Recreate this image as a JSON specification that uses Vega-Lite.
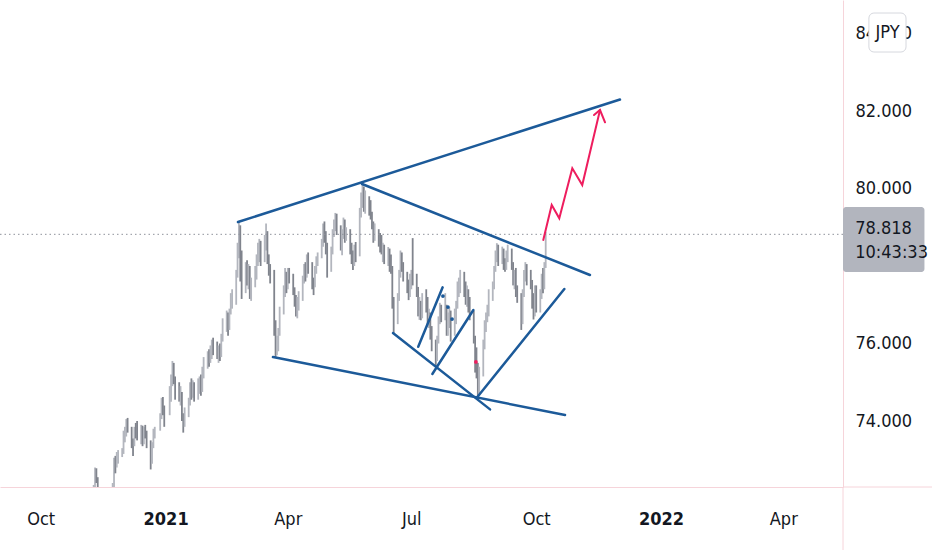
{
  "$schema": "https://vega.github.io/schema/vega-lite/v6.json",
  "width": 843,
  "height": 487,
  "autosize": {"type": "none"},
  "padding": {"left": 0, "top": 0, "right": 89, "bottom": 63},
  "background": "#ffffff",
  "config": {
    "view": {"stroke": null},
    "font": "'Liberation Sans Narrow', 'DejaVu Sans Condensed', Roboto, sans-serif"
  },
  "datasets": {
    "bars": [
      {"d":"2020-11-09","o":70.9,"h":72.35,"l":70.8,"c":72.2},
      {"d":"2020-11-10","o":72.2,"h":72.8,"l":72.1,"c":72.55},
      {"d":"2020-11-11","o":72.55,"h":72.78,"l":72.4,"c":72.5},
      {"d":"2020-11-12","o":72.5,"h":72.55,"l":72.0,"c":72.1},
      {"d":"2020-11-13","o":72.1,"h":72.2,"l":71.8,"c":71.95},
      {"d":"2020-11-16","o":71.95,"h":72.25,"l":71.8,"c":72.1},
      {"d":"2020-11-17","o":72.1,"h":72.2,"l":71.75,"c":71.9},
      {"d":"2020-11-18","o":71.9,"h":72.1,"l":71.7,"c":71.85},
      {"d":"2020-11-19","o":71.85,"h":72.0,"l":71.5,"c":71.7},
      {"d":"2020-11-20","o":71.7,"h":72.05,"l":71.6,"c":71.95},
      {"d":"2020-11-23","o":71.95,"h":72.4,"l":71.85,"c":72.3},
      {"d":"2020-11-24","o":72.3,"h":73.05,"l":72.25,"c":72.9},
      {"d":"2020-11-25","o":72.9,"h":73.1,"l":72.65,"c":72.85},
      {"d":"2020-11-26","o":72.85,"h":73.2,"l":72.8,"c":73.05},
      {"d":"2020-11-27","o":73.05,"h":73.25,"l":72.9,"c":73.15},
      {"d":"2020-11-30","o":73.15,"h":73.3,"l":73.07,"c":73.2},
      {"d":"2020-12-01","o":73.2,"h":73.75,"l":73.15,"c":73.65},
      {"d":"2020-12-02","o":73.65,"h":73.85,"l":73.45,"c":73.7},
      {"d":"2020-12-03","o":73.7,"h":74.05,"l":73.6,"c":73.95},
      {"d":"2020-12-04","o":73.95,"h":74.08,"l":73.7,"c":73.8},
      {"d":"2020-12-07","o":73.8,"h":73.85,"l":73.3,"c":73.45},
      {"d":"2020-12-08","o":73.45,"h":73.55,"l":73.1,"c":73.4},
      {"d":"2020-12-09","o":73.4,"h":73.85,"l":73.35,"c":73.75},
      {"d":"2020-12-10","o":73.75,"h":73.95,"l":73.55,"c":73.7},
      {"d":"2020-12-11","o":73.7,"h":74.0,"l":73.5,"c":73.6},
      {"d":"2020-12-14","o":73.6,"h":73.9,"l":73.4,"c":73.8},
      {"d":"2020-12-15","o":73.8,"h":73.88,"l":73.35,"c":73.45},
      {"d":"2020-12-16","o":73.45,"h":73.85,"l":73.4,"c":73.7},
      {"d":"2020-12-17","o":73.7,"h":73.9,"l":73.55,"c":73.65},
      {"d":"2020-12-18","o":73.65,"h":73.75,"l":73.3,"c":73.4},
      {"d":"2020-12-21","o":73.4,"h":73.5,"l":72.75,"c":73.1},
      {"d":"2020-12-22","o":73.1,"h":73.45,"l":72.9,"c":73.35},
      {"d":"2020-12-23","o":73.35,"h":73.8,"l":73.3,"c":73.7},
      {"d":"2020-12-24","o":73.7,"h":73.85,"l":73.55,"c":73.75},
      {"d":"2020-12-28","o":73.75,"h":74.2,"l":73.75,"c":74.1},
      {"d":"2020-12-29","o":74.1,"h":74.6,"l":74.05,"c":74.45},
      {"d":"2020-12-30","o":74.45,"h":74.62,"l":74.15,"c":74.3},
      {"d":"2020-12-31","o":74.3,"h":74.4,"l":73.85,"c":74.2},
      {"d":"2021-01-04","o":74.2,"h":74.9,"l":74.15,"c":74.6},
      {"d":"2021-01-05","o":74.6,"h":75.2,"l":74.5,"c":75.1},
      {"d":"2021-01-06","o":75.1,"h":75.55,"l":74.9,"c":75.3},
      {"d":"2021-01-07","o":75.3,"h":75.5,"l":74.95,"c":75.05},
      {"d":"2021-01-08","o":75.05,"h":75.15,"l":74.55,"c":74.8},
      {"d":"2021-01-11","o":74.8,"h":75.0,"l":74.5,"c":74.6},
      {"d":"2021-01-12","o":74.6,"h":74.9,"l":74.4,"c":74.7},
      {"d":"2021-01-13","o":74.7,"h":74.75,"l":74.0,"c":74.1},
      {"d":"2021-01-14","o":74.1,"h":74.2,"l":73.7,"c":73.95},
      {"d":"2021-01-15","o":73.95,"h":74.35,"l":73.85,"c":74.25},
      {"d":"2021-01-18","o":74.25,"h":74.6,"l":74.1,"c":74.5},
      {"d":"2021-01-19","o":74.5,"h":75.0,"l":74.4,"c":74.85},
      {"d":"2021-01-20","o":74.85,"h":75.1,"l":74.55,"c":74.7},
      {"d":"2021-01-21","o":74.7,"h":75.05,"l":74.6,"c":74.95},
      {"d":"2021-01-22","o":74.95,"h":75.0,"l":74.5,"c":74.6},
      {"d":"2021-01-25","o":74.6,"h":75.1,"l":74.55,"c":74.9},
      {"d":"2021-01-26","o":74.9,"h":75.15,"l":74.7,"c":75.05},
      {"d":"2021-01-27","o":75.05,"h":75.2,"l":74.65,"c":74.8},
      {"d":"2021-01-28","o":74.8,"h":75.4,"l":74.75,"c":75.3},
      {"d":"2021-01-29","o":75.3,"h":75.65,"l":75.1,"c":75.45},
      {"d":"2021-02-01","o":75.45,"h":75.8,"l":75.35,"c":75.65},
      {"d":"2021-02-02","o":75.65,"h":75.85,"l":75.4,"c":75.55},
      {"d":"2021-02-03","o":75.55,"h":75.95,"l":75.5,"c":75.85},
      {"d":"2021-02-04","o":75.85,"h":76.1,"l":75.6,"c":76.0},
      {"d":"2021-02-05","o":76.0,"h":76.15,"l":75.7,"c":75.85},
      {"d":"2021-02-08","o":75.85,"h":76.05,"l":75.6,"c":75.75},
      {"d":"2021-02-09","o":75.75,"h":75.95,"l":75.5,"c":75.9},
      {"d":"2021-02-10","o":75.9,"h":76.0,"l":75.55,"c":75.7},
      {"d":"2021-02-11","o":75.7,"h":76.25,"l":75.65,"c":76.15},
      {"d":"2021-02-12","o":76.15,"h":76.65,"l":76.05,"c":76.5},
      {"d":"2021-02-15","o":76.5,"h":76.85,"l":76.3,"c":76.7},
      {"d":"2021-02-16","o":76.7,"h":76.8,"l":76.2,"c":76.45},
      {"d":"2021-02-17","o":76.45,"h":76.9,"l":76.35,"c":76.8},
      {"d":"2021-02-18","o":76.8,"h":77.3,"l":76.75,"c":77.1},
      {"d":"2021-02-19","o":77.1,"h":77.4,"l":76.9,"c":77.25},
      {"d":"2021-02-22","o":77.25,"h":77.9,"l":77.0,"c":77.8},
      {"d":"2021-02-23","o":77.8,"h":78.6,"l":77.7,"c":78.4},
      {"d":"2021-02-24","o":78.4,"h":79.14,"l":78.2,"c":78.9},
      {"d":"2021-02-25","o":78.9,"h":79.05,"l":77.6,"c":77.9},
      {"d":"2021-02-26","o":77.9,"h":78.4,"l":77.15,"c":77.4},
      {"d":"2021-03-01","o":77.4,"h":78.1,"l":77.3,"c":77.95},
      {"d":"2021-03-02","o":77.95,"h":78.15,"l":77.5,"c":77.7},
      {"d":"2021-03-03","o":77.7,"h":78.05,"l":77.4,"c":77.9},
      {"d":"2021-03-04","o":77.9,"h":78.0,"l":77.15,"c":77.35},
      {"d":"2021-03-05","o":77.35,"h":77.7,"l":77.1,"c":77.55},
      {"d":"2021-03-08","o":77.55,"h":78.0,"l":77.45,"c":77.85},
      {"d":"2021-03-09","o":77.85,"h":78.3,"l":77.65,"c":78.2},
      {"d":"2021-03-10","o":78.2,"h":78.6,"l":78.0,"c":78.45},
      {"d":"2021-03-11","o":78.45,"h":78.7,"l":78.1,"c":78.55},
      {"d":"2021-03-12","o":78.55,"h":78.65,"l":78.0,"c":78.2},
      {"d":"2021-03-15","o":78.2,"h":78.8,"l":78.1,"c":78.6},
      {"d":"2021-03-16","o":78.6,"h":79.1,"l":78.4,"c":78.7},
      {"d":"2021-03-17","o":78.7,"h":78.9,"l":78.05,"c":78.2},
      {"d":"2021-03-18","o":78.2,"h":78.3,"l":77.75,"c":77.95},
      {"d":"2021-03-19","o":77.95,"h":78.05,"l":77.55,"c":77.8},
      {"d":"2021-03-22","o":77.8,"h":77.9,"l":76.2,"c":76.4},
      {"d":"2021-03-23","o":76.4,"h":76.6,"l":75.65,"c":75.95},
      {"d":"2021-03-24","o":75.95,"h":76.2,"l":75.7,"c":76.0},
      {"d":"2021-03-25","o":76.0,"h":76.4,"l":75.8,"c":76.3},
      {"d":"2021-03-26","o":76.3,"h":76.95,"l":76.2,"c":76.85},
      {"d":"2021-03-29","o":76.85,"h":77.5,"l":76.75,"c":77.3},
      {"d":"2021-03-30","o":77.3,"h":77.95,"l":77.2,"c":77.7},
      {"d":"2021-03-31","o":77.7,"h":77.85,"l":77.3,"c":77.45},
      {"d":"2021-04-01","o":77.45,"h":77.95,"l":77.4,"c":77.8},
      {"d":"2021-04-02","o":77.8,"h":77.95,"l":77.55,"c":77.7},
      {"d":"2021-04-05","o":77.7,"h":77.8,"l":77.25,"c":77.35},
      {"d":"2021-04-06","o":77.35,"h":77.45,"l":76.95,"c":77.1},
      {"d":"2021-04-07","o":77.1,"h":77.25,"l":76.7,"c":76.9},
      {"d":"2021-04-08","o":76.9,"h":77.2,"l":76.65,"c":77.05},
      {"d":"2021-04-09","o":77.05,"h":77.35,"l":76.85,"c":77.2},
      {"d":"2021-04-12","o":77.2,"h":77.75,"l":77.1,"c":77.65},
      {"d":"2021-04-13","o":77.65,"h":78.05,"l":77.55,"c":77.9},
      {"d":"2021-04-14","o":77.9,"h":78.1,"l":77.6,"c":77.75},
      {"d":"2021-04-15","o":77.75,"h":78.3,"l":77.7,"c":78.2},
      {"d":"2021-04-16","o":78.2,"h":78.35,"l":77.8,"c":77.95},
      {"d":"2021-04-19","o":77.95,"h":78.1,"l":77.4,"c":77.55},
      {"d":"2021-04-20","o":77.55,"h":77.7,"l":77.25,"c":77.5},
      {"d":"2021-04-21","o":77.5,"h":78.0,"l":77.45,"c":77.9},
      {"d":"2021-04-22","o":77.9,"h":78.25,"l":77.8,"c":78.1},
      {"d":"2021-04-23","o":78.1,"h":78.35,"l":78.0,"c":78.25},
      {"d":"2021-04-26","o":78.25,"h":78.7,"l":78.2,"c":78.6},
      {"d":"2021-04-27","o":78.6,"h":79.1,"l":78.5,"c":78.95},
      {"d":"2021-04-28","o":78.95,"h":79.15,"l":78.6,"c":78.75},
      {"d":"2021-04-29","o":78.75,"h":78.9,"l":78.3,"c":78.45},
      {"d":"2021-04-30","o":78.45,"h":78.6,"l":77.7,"c":77.95},
      {"d":"2021-05-03","o":77.95,"h":78.5,"l":77.85,"c":78.4},
      {"d":"2021-05-04","o":78.4,"h":78.95,"l":78.3,"c":78.85},
      {"d":"2021-05-05","o":78.85,"h":79.2,"l":78.75,"c":79.05},
      {"d":"2021-05-06","o":79.05,"h":79.37,"l":78.9,"c":79.2},
      {"d":"2021-05-07","o":79.2,"h":79.35,"l":78.8,"c":79.0},
      {"d":"2021-05-10","o":79.0,"h":79.05,"l":78.4,"c":78.6},
      {"d":"2021-05-11","o":78.6,"h":78.95,"l":78.28,"c":78.8},
      {"d":"2021-05-12","o":78.8,"h":79.25,"l":78.7,"c":79.1},
      {"d":"2021-05-13","o":79.1,"h":79.2,"l":78.6,"c":78.75},
      {"d":"2021-05-14","o":78.75,"h":79.0,"l":78.65,"c":78.9},
      {"d":"2021-05-17","o":78.9,"h":78.95,"l":78.3,"c":78.45},
      {"d":"2021-05-18","o":78.45,"h":78.6,"l":78.05,"c":78.2},
      {"d":"2021-05-19","o":78.2,"h":78.4,"l":77.9,"c":78.1},
      {"d":"2021-05-20","o":78.1,"h":78.55,"l":78.0,"c":78.45},
      {"d":"2021-05-21","o":78.45,"h":78.62,"l":78.1,"c":78.3},
      {"d":"2021-05-24","o":78.3,"h":79.5,"l":78.25,"c":79.35},
      {"d":"2021-05-25","o":79.35,"h":79.9,"l":79.25,"c":79.7},
      {"d":"2021-05-26","o":79.7,"h":80.12,"l":79.5,"c":79.85},
      {"d":"2021-05-27","o":79.85,"h":80.05,"l":79.4,"c":79.6},
      {"d":"2021-05-28","o":79.6,"h":79.95,"l":79.35,"c":79.75},
      {"d":"2021-05-31","o":79.75,"h":79.8,"l":79.3,"c":79.45},
      {"d":"2021-06-01","o":79.45,"h":79.7,"l":79.2,"c":79.3},
      {"d":"2021-06-02","o":79.3,"h":79.4,"l":78.95,"c":79.05},
      {"d":"2021-06-03","o":79.05,"h":79.15,"l":78.6,"c":78.75},
      {"d":"2021-06-04","o":78.75,"h":79.1,"l":78.65,"c":78.95},
      {"d":"2021-06-07","o":78.95,"h":78.95,"l":78.5,"c":78.7},
      {"d":"2021-06-08","o":78.7,"h":78.85,"l":78.35,"c":78.55},
      {"d":"2021-06-09","o":78.55,"h":78.8,"l":78.3,"c":78.4},
      {"d":"2021-06-10","o":78.4,"h":78.6,"l":78.1,"c":78.5},
      {"d":"2021-06-11","o":78.5,"h":78.55,"l":78.05,"c":78.2},
      {"d":"2021-06-14","o":78.2,"h":78.49,"l":78.0,"c":78.35},
      {"d":"2021-06-15","o":78.35,"h":78.45,"l":77.85,"c":78.05},
      {"d":"2021-06-16","o":78.05,"h":78.3,"l":77.8,"c":77.95},
      {"d":"2021-06-17","o":77.95,"h":78.0,"l":76.9,"c":77.1},
      {"d":"2021-06-18","o":77.1,"h":77.2,"l":76.27,"c":76.55},
      {"d":"2021-06-21","o":76.55,"h":77.3,"l":76.5,"c":77.2},
      {"d":"2021-06-22","o":77.2,"h":77.9,"l":77.1,"c":77.8},
      {"d":"2021-06-23","o":77.8,"h":78.4,"l":77.7,"c":78.2},
      {"d":"2021-06-24","o":78.2,"h":78.35,"l":77.85,"c":78.0},
      {"d":"2021-06-25","o":78.0,"h":78.1,"l":77.6,"c":77.75},
      {"d":"2021-06-28","o":77.75,"h":77.85,"l":77.3,"c":77.45},
      {"d":"2021-06-29","o":77.45,"h":77.65,"l":77.12,"c":77.3},
      {"d":"2021-06-30","o":77.3,"h":77.8,"l":77.2,"c":77.6},
      {"d":"2021-07-01","o":77.6,"h":77.9,"l":77.4,"c":77.8},
      {"d":"2021-07-02","o":77.8,"h":78.72,"l":77.5,"c":77.7},
      {"d":"2021-07-05","o":77.7,"h":77.8,"l":77.2,"c":77.35},
      {"d":"2021-07-06","o":77.35,"h":77.46,"l":76.7,"c":76.9},
      {"d":"2021-07-07","o":76.9,"h":77.2,"l":76.61,"c":77.0},
      {"d":"2021-07-08","o":77.0,"h":77.1,"l":76.6,"c":76.75},
      {"d":"2021-07-09","o":76.75,"h":77.3,"l":76.65,"c":77.15},
      {"d":"2021-07-12","o":77.15,"h":77.4,"l":76.8,"c":77.0},
      {"d":"2021-07-13","o":77.0,"h":77.2,"l":76.45,"c":76.6},
      {"d":"2021-07-14","o":76.6,"h":76.9,"l":76.4,"c":76.7},
      {"d":"2021-07-15","o":76.7,"h":76.8,"l":76.1,"c":76.25},
      {"d":"2021-07-16","o":76.25,"h":76.45,"l":75.8,"c":75.95},
      {"d":"2021-07-19","o":75.95,"h":76.1,"l":75.4,"c":75.7},
      {"d":"2021-07-20","o":75.7,"h":76.2,"l":75.55,"c":76.1},
      {"d":"2021-07-21","o":76.1,"h":76.7,"l":76.0,"c":76.6},
      {"d":"2021-07-22","o":76.6,"h":77.05,"l":76.5,"c":76.85},
      {"d":"2021-07-23","o":76.85,"h":77.0,"l":76.55,"c":76.7},
      {"d":"2021-07-26","o":76.7,"h":77.3,"l":76.6,"c":76.95},
      {"d":"2021-07-27","o":76.95,"h":77.0,"l":76.2,"c":76.4},
      {"d":"2021-07-28","o":76.4,"h":76.8,"l":76.2,"c":76.65},
      {"d":"2021-07-29","o":76.65,"h":76.94,"l":76.4,"c":76.8},
      {"d":"2021-07-30","o":76.8,"h":76.85,"l":76.05,"c":76.25},
      {"d":"2021-08-02","o":76.25,"h":76.9,"l":76.2,"c":76.8},
      {"d":"2021-08-03","o":76.8,"h":77.1,"l":76.5,"c":77.0},
      {"d":"2021-08-04","o":77.0,"h":77.6,"l":76.9,"c":77.45},
      {"d":"2021-08-05","o":77.45,"h":77.7,"l":77.2,"c":77.5},
      {"d":"2021-08-06","o":77.5,"h":77.9,"l":77.3,"c":77.75},
      {"d":"2021-08-09","o":77.75,"h":77.85,"l":77.2,"c":77.4},
      {"d":"2021-08-10","o":77.4,"h":77.6,"l":77.0,"c":77.2},
      {"d":"2021-08-11","o":77.2,"h":77.5,"l":76.95,"c":77.35},
      {"d":"2021-08-12","o":77.35,"h":77.4,"l":76.8,"c":77.0},
      {"d":"2021-08-13","o":77.0,"h":77.2,"l":76.6,"c":76.75},
      {"d":"2021-08-16","o":76.75,"h":76.85,"l":76.0,"c":76.15},
      {"d":"2021-08-17","o":76.15,"h":76.2,"l":75.25,"c":75.4},
      {"d":"2021-08-18","o":75.4,"h":75.9,"l":75.1,"c":75.3},
      {"d":"2021-08-19","o":75.3,"h":75.5,"l":74.59,"c":74.8},
      {"d":"2021-08-20","o":74.8,"h":75.4,"l":74.65,"c":75.2},
      {"d":"2021-08-23","o":75.2,"h":76.1,"l":75.15,"c":75.95},
      {"d":"2021-08-24","o":75.95,"h":76.6,"l":75.85,"c":76.45},
      {"d":"2021-08-25","o":76.45,"h":76.8,"l":76.3,"c":76.7},
      {"d":"2021-08-26","o":76.7,"h":77.0,"l":76.55,"c":76.85},
      {"d":"2021-08-27","o":76.85,"h":77.4,"l":76.7,"c":77.3},
      {"d":"2021-08-30","o":77.3,"h":77.6,"l":77.1,"c":77.5},
      {"d":"2021-08-31","o":77.5,"h":78.0,"l":77.4,"c":77.9},
      {"d":"2021-09-01","o":77.9,"h":78.4,"l":77.85,"c":78.3},
      {"d":"2021-09-02","o":78.3,"h":78.59,"l":78.1,"c":78.45},
      {"d":"2021-09-03","o":78.45,"h":78.55,"l":78.0,"c":78.2},
      {"d":"2021-09-06","o":78.2,"h":78.5,"l":78.05,"c":78.35},
      {"d":"2021-09-07","o":78.35,"h":78.45,"l":77.9,"c":78.05},
      {"d":"2021-09-08","o":78.05,"h":78.2,"l":77.85,"c":78.0},
      {"d":"2021-09-09","o":78.0,"h":78.4,"l":77.9,"c":78.3},
      {"d":"2021-09-10","o":78.3,"h":78.55,"l":78.1,"c":78.4},
      {"d":"2021-09-13","o":78.4,"h":78.45,"l":77.9,"c":78.05},
      {"d":"2021-09-14","o":78.05,"h":78.1,"l":77.5,"c":77.65},
      {"d":"2021-09-15","o":77.65,"h":77.9,"l":77.4,"c":77.8},
      {"d":"2021-09-16","o":77.8,"h":77.95,"l":77.2,"c":77.35},
      {"d":"2021-09-17","o":77.35,"h":77.5,"l":77.05,"c":77.2},
      {"d":"2021-09-20","o":77.2,"h":77.3,"l":76.35,"c":76.6},
      {"d":"2021-09-21","o":76.6,"h":77.4,"l":76.5,"c":77.3},
      {"d":"2021-09-22","o":77.3,"h":77.9,"l":77.2,"c":77.75},
      {"d":"2021-09-23","o":77.75,"h":78.1,"l":77.6,"c":78.0},
      {"d":"2021-09-24","o":78.0,"h":78.05,"l":77.5,"c":77.65},
      {"d":"2021-09-27","o":77.65,"h":77.9,"l":77.4,"c":77.55},
      {"d":"2021-09-28","o":77.55,"h":77.64,"l":76.9,"c":77.05},
      {"d":"2021-09-29","o":77.05,"h":77.3,"l":76.62,"c":76.85},
      {"d":"2021-09-30","o":76.85,"h":77.5,"l":76.7,"c":77.4},
      {"d":"2021-10-01","o":77.4,"h":77.5,"l":76.8,"c":77.0},
      {"d":"2021-10-04","o":77.0,"h":77.4,"l":76.8,"c":77.25},
      {"d":"2021-10-05","o":77.25,"h":77.8,"l":77.15,"c":77.7},
      {"d":"2021-10-06","o":77.7,"h":77.95,"l":77.3,"c":77.5},
      {"d":"2021-10-07","o":77.5,"h":78.1,"l":77.4,"c":78.0},
      {"d":"2021-10-08","o":78.0,"h":78.88,"l":77.95,"c":78.818}
    ],
    "trend": [
      {"id":"upper","t":"2021-02-23T07:00Z","v":79.135},
      {"id":"upper","t":"2021-12-01T17:00Z","v":82.297},
      {"id":"lower","t":"2021-03-21T02:00Z","v":75.652},
      {"id":"lower","t":"2021-10-22T05:00Z","v":74.155},
      {"id":"falling","t":"2021-05-25T17:00Z","v":80.116},
      {"id":"falling","t":"2021-11-09T14:00Z","v":77.768},
      {"id":"inner","t":"2021-06-17T12:00Z","v":76.271},
      {"id":"inner","t":"2021-08-28T00:00Z","v":74.3},
      {"id":"rising","t":"2021-08-18T05:00Z","v":74.601},
      {"id":"rising","t":"2021-10-21T17:00Z","v":77.406},
      {"id":"flagA","t":"2021-07-06T02:00Z","v":75.917},
      {"id":"flagA","t":"2021-07-24T02:00Z","v":77.45},
      {"id":"flagB","t":"2021-07-16T12:00Z","v":75.213},
      {"id":"flagB","t":"2021-08-15T17:00Z","v":76.865}
    ],
    "target": [
      {"id":"path","t":"2021-10-06T05:00Z","v":78.671},
      {"id":"path","t":"2021-10-12T10:00Z","v":79.574},
      {"id":"path","t":"2021-10-18T00:00Z","v":79.231},
      {"id":"path","t":"2021-10-27T14:00Z","v":80.521},
      {"id":"path","t":"2021-11-03T22:00Z","v":80.09},
      {"id":"path","t":"2021-11-17T00:00Z","v":82.026},
      {"id":"head","t":"2021-11-12T14:00Z","v":81.897},
      {"id":"head","t":"2021-11-17T00:00Z","v":82.026},
      {"id":"head","t":"2021-11-20T17:00Z","v":81.708}
    ],
    "dots": [
      {"g":"wave","t":"2021-07-24T07:00Z","v":77.226},
      {"g":"wave","t":"2021-07-28T00:00Z","v":76.942},
      {"g":"wave","t":"2021-07-31T00:00Z","v":76.632},
      {"g":"low","t":"2021-08-17T14:00Z","v":75.523}
    ]
  },
  "layer": [
    {
      "data": {"name": "bars"},
      "mark": {"type": "rule", "strokeWidth": 1.8, "clip": true},
      "encoding": {
        "x": {
          "field": "d",
          "type": "temporal",
          "scale": {
            "type": "utc",
            "domain": [
              {"year": 2020, "month": 9, "date": 1, "utc": true},
              {"year": 2022, "month": 5, "date": 15, "utc": true}
            ],
            "nice": false
          },
          "axis": {
            "title": null,
            "grid": false,
            "ticks": false,
            "zindex": 0,
            "values": [
              {"year": 2020, "month": 10, "date": 1, "utc": true},
              {"year": 2021, "month": 1, "date": 1, "utc": true},
              {"year": 2021, "month": 4, "date": 1, "utc": true},
              {"year": 2021, "month": 7, "date": 1, "utc": true},
              {"year": 2021, "month": 10, "date": 1, "utc": true},
              {"year": 2022, "month": 1, "date": 1, "utc": true},
              {"year": 2022, "month": 4, "date": 1, "utc": true}
            ],
            "labelExpr": "utcmonth(datum.value) == 0 ? utcFormat(datum.value, '%Y') : utcFormat(datum.value, '%b')",
            "labelFontWeight": {"condition": {"test": "utcmonth(datum.value) == 0", "value": "bold"}, "value": "normal"},
            "labelFont": "'Liberation Sans Narrow', 'DejaVu Sans Condensed', Roboto, sans-serif",
            "labelFontSize": 18,
            "labelColor": "#131722",
            "labelPadding": 23,
            "labelFlush": false,
            "labelOverlap": false,
            "domainColor": "#f6d4da",
            "domainWidth": 1
          }
        },
        "y": {
          "field": "l",
          "type": "quantitative",
          "scale": {"domain": [72.297, 84.865], "nice": false, "zero": false},
          "axis": {
            "orient": "right",
            "title": null,
            "grid": false,
            "ticks": false,
            "zindex": 0,
            "values": [74, 76, 80, 82, 84],
            "format": ".3f",
            "labelFont": "'Liberation Sans Narrow', 'DejaVu Sans Condensed', Roboto, sans-serif",
            "labelFontSize": 18,
            "labelColor": "#131722",
            "labelPadding": 12,
            "labelFlush": false,
            "labelOverlap": false,
            "domainColor": "#f6d4da",
            "domainWidth": 1
          }
        },
        "y2": {"field": "h"},
        "color": {"condition": {"test": "datum.c >= datum.o", "value": "#b3b6be"}, "value": "#80848d"}
      }
    },
    {
      "data": {"values": [{}]},
      "mark": {"type": "rule", "color": "#8f929b", "strokeWidth": 1, "strokeDash": [1.5, 3]},
      "encoding": {"y": {"datum": 78.818, "type": "quantitative"}}
    },
    {
      "data": {"name": "trend"},
      "mark": {"type": "line", "color": "#1c5a99", "strokeWidth": 2.5, "strokeCap": "round"},
      "encoding": {
        "x": {"field": "t", "type": "temporal"},
        "y": {"field": "v", "type": "quantitative"},
        "detail": {"field": "id"}
      }
    },
    {
      "data": {"name": "target"},
      "mark": {"type": "line", "color": "#ee1d5e", "strokeWidth": 2, "strokeCap": "round", "strokeJoin": "miter"},
      "encoding": {
        "x": {"field": "t", "type": "temporal"},
        "y": {"field": "v", "type": "quantitative"},
        "detail": {"field": "id"}
      }
    },
    {
      "data": {"name": "dots"},
      "mark": {"type": "point", "filled": true, "size": 14, "opacity": 1},
      "encoding": {
        "x": {"field": "t", "type": "temporal"},
        "y": {"field": "v", "type": "quantitative"},
        "color": {"field": "g", "type": "nominal", "scale": {"domain": ["wave", "low"], "range": ["#1c5a99", "#ee1d5e"]}, "legend": null}
      }
    },
    {
      "data": {"values": [{}]},
      "mark": {"type": "rule", "color": "#f6d4da", "strokeWidth": 1},
      "encoding": {
        "x": {"datum": {"year": 2022, "month": 5, "date": 15, "utc": true}, "type": "temporal"},
        "y": {"datum": 72.297, "type": "quantitative"},
        "y2": {"datum": 70.6}
      }
    },
    {
      "data": {"values": [{}]},
      "mark": {"type": "rule", "color": "#f6d4da", "strokeWidth": 1},
      "encoding": {
        "x": {"datum": {"year": 2022, "month": 5, "date": 15, "utc": true}, "type": "temporal"},
        "x2": {"datum": {"year": 2022, "month": 7, "date": 21, "utc": true}},
        "y": {"datum": 72.297, "type": "quantitative"}
      }
    },
    {
      "data": {"values": [{}]},
      "mark": {"type": "rect", "color": "#b2b5be", "cornerRadius": 3},
      "encoding": {
        "x": {"datum": {"year": 2022, "month": 5, "date": 15, "utc": true}, "type": "temporal"},
        "x2": {"datum": {"year": 2022, "month": 7, "date": 14, "utc": true}},
        "y": {"datum": 79.523, "type": "quantitative"},
        "y2": {"datum": 77.845}
      }
    },
    {
      "data": {"values": [{"label": "78.818", "v": 78.955}, {"label": "10:43:33", "v": 78.335}]},
      "mark": {"type": "text", "align": "left", "baseline": "middle", "font": "'Liberation Sans Narrow', 'DejaVu Sans Condensed', Roboto, sans-serif", "fontSize": 18, "color": "#131722"},
      "encoding": {
        "x": {"datum": {"year": 2022, "month": 5, "date": 24, "hours": 0, "utc": true}, "type": "temporal"},
        "y": {"field": "v", "type": "quantitative"},
        "text": {"field": "label"}
      }
    },
    {
      "data": {"values": [{}]},
      "mark": {"type": "rect", "fill": "#ffffff", "stroke": "#d6d8de", "strokeWidth": 1, "cornerRadius": 5},
      "encoding": {
        "x": {"datum": {"year": 2022, "month": 6, "date": 3, "hours": 2, "utc": true}, "type": "temporal"},
        "x2": {"datum": {"year": 2022, "month": 6, "date": 30, "hours": 10, "utc": true}},
        "y": {"datum": 84.529, "type": "quantitative"},
        "y2": {"datum": 83.523}
      }
    },
    {
      "data": {"values": [{"label": "JPY"}]},
      "mark": {"type": "text", "align": "center", "baseline": "middle", "font": "'Liberation Sans Narrow', 'DejaVu Sans Condensed', Roboto, sans-serif", "fontSize": 18, "color": "#131722"},
      "encoding": {
        "x": {"datum": {"year": 2022, "month": 6, "date": 16, "hours": 19, "utc": true}, "type": "temporal"},
        "y": {"datum": 84.013, "type": "quantitative"},
        "text": {"field": "label"}
      }
    }
  ]
}
